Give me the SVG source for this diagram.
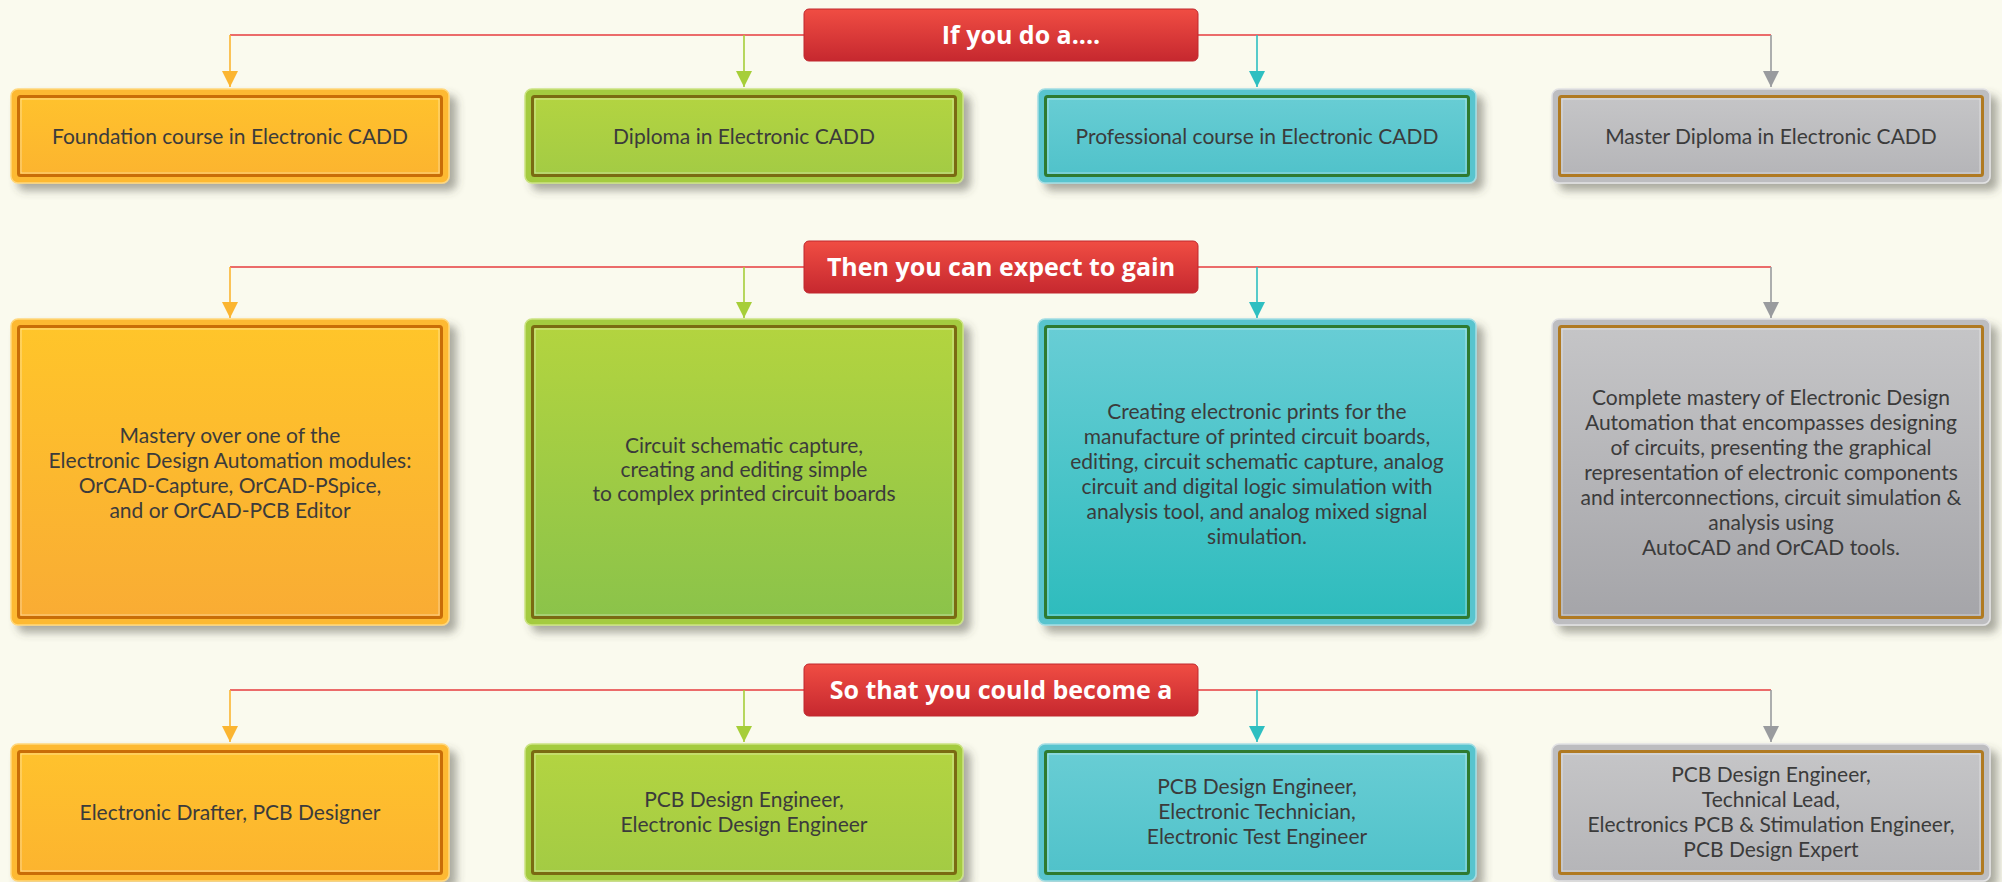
<svg xmlns="http://www.w3.org/2000/svg" width="2002" height="882" viewBox="0 0 2002 882">
<defs>
<style>
.t{font-family:Lato,"Open Sans","Noto Sans",sans-serif;font-size:21px;fill:#3B3B3B;text-anchor:middle}
.h{font-family:"Open Sans","Noto Sans",sans-serif;font-weight:700;font-size:25px;fill:#FFFFFF;text-anchor:middle}
.hdr{fill:url(#gR);stroke:#C0282E;stroke-width:1}
.red{stroke:#E63B3E;stroke-width:1.6;fill:none}
.sh{filter:url(#shadow)}
.hl{fill:none;stroke:#FFFFFF;stroke-opacity:0.45;stroke-width:1}
.rim-o{fill:#FDB933;stroke:#FFD77C;stroke-width:1.5}
.rim-g{fill:#A4CB3F;stroke:#CBE383;stroke-width:1.5}
.rim-t{fill:#58C4CE;stroke:#A2DDE4;stroke-width:1.5}
.rim-y{fill:#BDBDC0;stroke:#E2E2E4;stroke-width:1.5}
.bd-o{stroke:#C96D07;stroke-width:3}
.bd-g{stroke:#7A6A12;stroke-width:3}
.bd-t{stroke:#2E7A30;stroke-width:3}
.bd-y{stroke:#B07A22;stroke-width:3}
.c-o{stroke:#FBB531;stroke-width:1.6;fill:none}
.c-g{stroke:#A6CE39;stroke-width:1.6;fill:none}
.c-t{stroke:#2EBFC1;stroke-width:1.6;fill:none}
.c-y{stroke:#999B9E;stroke-width:1.6;fill:none}
</style>
<filter id="shadow" x="-10%" y="-10%" width="125%" height="130%">
<feDropShadow dx="7" dy="7" stdDeviation="4" flood-color="#4A4A40" flood-opacity="0.45"/>
</filter>
<linearGradient id="gR" x1="0" y1="0" x2="0" y2="1"><stop offset="0" stop-color="#F04D43"/><stop offset="1" stop-color="#C6282F"/></linearGradient>
<linearGradient id="gO1" x1="0" y1="0" x2="0" y2="1"><stop offset="0" stop-color="#FFC22D"/><stop offset="1" stop-color="#FCB42F"/></linearGradient>
<linearGradient id="gO2" x1="0" y1="0" x2="0" y2="1"><stop offset="0" stop-color="#FFC52A"/><stop offset="1" stop-color="#F9AC34"/></linearGradient>
<linearGradient id="gG1" x1="0" y1="0" x2="0" y2="1"><stop offset="0" stop-color="#B3D441"/><stop offset="1" stop-color="#A3CB44"/></linearGradient>
<linearGradient id="gG2" x1="0" y1="0" x2="0" y2="1"><stop offset="0" stop-color="#B3D43F"/><stop offset="1" stop-color="#8BC34A"/></linearGradient>
<linearGradient id="gT1" x1="0" y1="0" x2="0" y2="1"><stop offset="0" stop-color="#68CDD4"/><stop offset="1" stop-color="#50C2CA"/></linearGradient>
<linearGradient id="gT2" x1="0" y1="0" x2="0" y2="1"><stop offset="0" stop-color="#68CDD5"/><stop offset="1" stop-color="#2EBCBD"/></linearGradient>
<linearGradient id="gY1" x1="0" y1="0" x2="0" y2="1"><stop offset="0" stop-color="#C5C5C7"/><stop offset="1" stop-color="#B5B5B8"/></linearGradient>
<linearGradient id="gY2" x1="0" y1="0" x2="0" y2="1"><stop offset="0" stop-color="#C5C5C7"/><stop offset="1" stop-color="#A5A5A9"/></linearGradient>
<marker id="aO" markerUnits="userSpaceOnUse" markerWidth="16" markerHeight="16" refX="16" refY="8" orient="auto"><path d="M0,0 L16,8 L0,16 z" fill="#FBB531"/></marker>
<marker id="aG" markerUnits="userSpaceOnUse" markerWidth="16" markerHeight="16" refX="16" refY="8" orient="auto"><path d="M0,0 L16,8 L0,16 z" fill="#A6CE39"/></marker>
<marker id="aT" markerUnits="userSpaceOnUse" markerWidth="16" markerHeight="16" refX="16" refY="8" orient="auto"><path d="M0,0 L16,8 L0,16 z" fill="#2EBFC1"/></marker>
<marker id="aY" markerUnits="userSpaceOnUse" markerWidth="16" markerHeight="16" refX="16" refY="8" orient="auto"><path d="M0,0 L16,8 L0,16 z" fill="#999B9E"/></marker>
</defs>
<rect width="2002" height="882" fill="#FAFAEE"/>

<g id="connectors">
<line class="red" x1="230" y1="35" x2="1771" y2="35"/>
<line class="red" x1="230" y1="267" x2="1771" y2="267"/>
<line class="red" x1="230" y1="690" x2="1771" y2="690"/>
<line class="c-o" x1="230" y1="35" x2="230" y2="87" marker-end="url(#aO)"/>
<line class="c-g" x1="744" y1="35" x2="744" y2="87" marker-end="url(#aG)"/>
<line class="c-t" x1="1257" y1="35" x2="1257" y2="87" marker-end="url(#aT)"/>
<line class="c-y" x1="1771" y1="35" x2="1771" y2="87" marker-end="url(#aY)"/>
<line class="c-o" x1="230" y1="267" x2="230" y2="318" marker-end="url(#aO)"/>
<line class="c-g" x1="744" y1="267" x2="744" y2="318" marker-end="url(#aG)"/>
<line class="c-t" x1="1257" y1="267" x2="1257" y2="318" marker-end="url(#aT)"/>
<line class="c-y" x1="1771" y1="267" x2="1771" y2="318" marker-end="url(#aY)"/>
<line class="c-o" x1="230" y1="690" x2="230" y2="742" marker-end="url(#aO)"/>
<line class="c-g" x1="744" y1="690" x2="744" y2="742" marker-end="url(#aG)"/>
<line class="c-t" x1="1257" y1="690" x2="1257" y2="742" marker-end="url(#aT)"/>
<line class="c-y" x1="1771" y1="690" x2="1771" y2="742" marker-end="url(#aY)"/>
</g>

<g id="h1"><rect class="hdr" x="804" y="9" width="394" height="52" rx="5"/><text class="h" x="1021" y="44">If you do a....</text></g>
<g id="h2"><rect class="hdr" x="804" y="241" width="394" height="52" rx="5"/><text class="h" x="1001" y="276">Then you can expect to gain</text></g>
<g id="h3"><rect class="hdr" x="804" y="664" width="394" height="52" rx="5"/><text class="h" x="1001" y="699">So that you could become a</text></g>

<!-- Row 1 -->
<g id="r1c1"><rect class="rim-o sh" x="11" y="89" width="438" height="94" rx="7"/><rect class="bd-o" fill="url(#gO1)" x="18.5" y="96.5" width="423" height="79" rx="2"/><rect class="hl" x="21" y="99" width="418" height="74"/>
<text class="t" x="230" y="144">Foundation course in Electronic CADD</text></g>
<g id="r1c2"><rect class="rim-g sh" x="525" y="89" width="438" height="94" rx="7"/><rect class="bd-g" fill="url(#gG1)" x="532.5" y="96.5" width="423" height="79" rx="2"/><rect class="hl" x="535" y="99" width="418" height="74"/>
<text class="t" x="744" y="144">Diploma in Electronic CADD</text></g>
<g id="r1c3"><rect class="rim-t sh" x="1038" y="89" width="438" height="94" rx="7"/><rect class="bd-t" fill="url(#gT1)" x="1045.5" y="96.5" width="423" height="79" rx="2"/><rect class="hl" x="1048" y="99" width="418" height="74"/>
<text class="t" x="1257" y="144">Professional course in Electronic CADD</text></g>
<g id="r1c4"><rect class="rim-y sh" x="1552" y="89" width="438" height="94" rx="7"/><rect class="bd-y" fill="url(#gY1)" x="1559.5" y="96.5" width="423" height="79" rx="2"/><rect class="hl" x="1562" y="99" width="418" height="74"/>
<text class="t" x="1771" y="144">Master Diploma in Electronic CADD</text></g>

<!-- Row 2 -->
<g id="r2c1"><rect class="rim-o sh" x="11" y="319" width="438" height="306" rx="7"/><rect class="bd-o" fill="url(#gO2)" x="18.5" y="326.5" width="423" height="291" rx="2"/><rect class="hl" x="21" y="329" width="418" height="286"/>
<text class="t" x="230" y="443">Mastery over one of the</text>
<text class="t" x="230" y="468">Electronic Design Automation modules:</text>
<text class="t" x="230" y="493">OrCAD-Capture, OrCAD-PSpice,</text>
<text class="t" x="230" y="518">and or OrCAD-PCB Editor</text></g>
<g id="r2c2"><rect class="rim-g sh" x="525" y="319" width="438" height="306" rx="7"/><rect class="bd-g" fill="url(#gG2)" x="532.5" y="326.5" width="423" height="291" rx="2"/><rect class="hl" x="535" y="329" width="418" height="286"/>
<text class="t" x="744" y="453">Circuit schematic capture,</text>
<text class="t" x="744" y="477">creating and editing simple</text>
<text class="t" x="744" y="501">to complex printed circuit boards</text></g>
<g id="r2c3"><rect class="rim-t sh" x="1038" y="319" width="438" height="306" rx="7"/><rect class="bd-t" fill="url(#gT2)" x="1045.5" y="326.5" width="423" height="291" rx="2"/><rect class="hl" x="1048" y="329" width="418" height="286"/>
<text class="t" x="1257" y="419">Creating electronic prints for the</text>
<text class="t" x="1257" y="444">manufacture of printed circuit boards,</text>
<text class="t" x="1257" y="469">editing, circuit schematic capture, analog</text>
<text class="t" x="1257" y="494">circuit and digital logic simulation with</text>
<text class="t" x="1257" y="519">analysis tool, and analog mixed signal</text>
<text class="t" x="1257" y="544">simulation.</text></g>
<g id="r2c4"><rect class="rim-y sh" x="1552" y="319" width="438" height="306" rx="7"/><rect class="bd-y" fill="url(#gY2)" x="1559.5" y="326.5" width="423" height="291" rx="2"/><rect class="hl" x="1562" y="329" width="418" height="286"/>
<text class="t" x="1771" y="405">Complete mastery of Electronic Design</text>
<text class="t" x="1771" y="430">Automation that encompasses designing</text>
<text class="t" x="1771" y="455">of circuits, presenting the graphical</text>
<text class="t" x="1771" y="480">representation of electronic components</text>
<text class="t" x="1771" y="505">and interconnections, circuit simulation &amp;</text>
<text class="t" x="1771" y="530">analysis using</text>
<text class="t" x="1771" y="555">AutoCAD and OrCAD tools.</text></g>

<!-- Row 3 -->
<g id="r3c1"><rect class="rim-o sh" x="11" y="744" width="438" height="137" rx="7"/><rect class="bd-o" fill="url(#gO1)" x="18.5" y="751.5" width="423" height="122" rx="2"/><rect class="hl" x="21" y="754" width="418" height="117"/>
<text class="t" x="230" y="820">Electronic Drafter, PCB Designer</text></g>
<g id="r3c2"><rect class="rim-g sh" x="525" y="744" width="438" height="137" rx="7"/><rect class="bd-g" fill="url(#gG1)" x="532.5" y="751.5" width="423" height="122" rx="2"/><rect class="hl" x="535" y="754" width="418" height="117"/>
<text class="t" x="744" y="807">PCB Design Engineer,</text>
<text class="t" x="744" y="832">Electronic Design Engineer</text></g>
<g id="r3c3"><rect class="rim-t sh" x="1038" y="744" width="438" height="137" rx="7"/><rect class="bd-t" fill="url(#gT1)" x="1045.5" y="751.5" width="423" height="122" rx="2"/><rect class="hl" x="1048" y="754" width="418" height="117"/>
<text class="t" x="1257" y="794">PCB Design Engineer,</text>
<text class="t" x="1257" y="819">Electronic Technician,</text>
<text class="t" x="1257" y="844">Electronic Test Engineer</text></g>
<g id="r3c4"><rect class="rim-y sh" x="1552" y="744" width="438" height="137" rx="7"/><rect class="bd-y" fill="url(#gY1)" x="1559.5" y="751.5" width="423" height="122" rx="2"/><rect class="hl" x="1562" y="754" width="418" height="117"/>
<text class="t" x="1771" y="782">PCB Design Engineer,</text>
<text class="t" x="1771" y="807">Technical Lead,</text>
<text class="t" x="1771" y="832">Electronics PCB &amp; Stimulation Engineer,</text>
<text class="t" x="1771" y="857">PCB Design Expert</text></g>
</svg>
